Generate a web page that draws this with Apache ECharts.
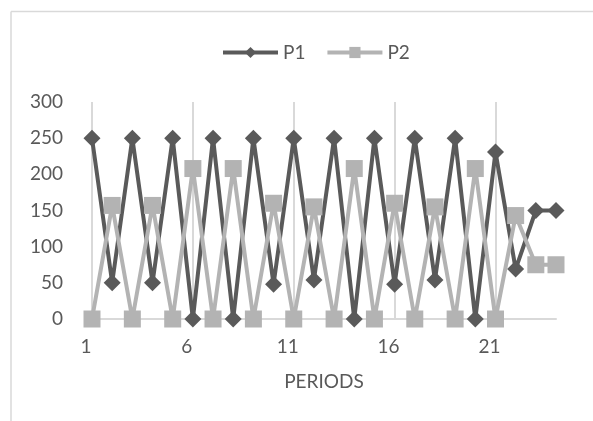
<!DOCTYPE html>
<html>
<head>
<meta charset="utf-8">
<script src="https://cdn.jsdelivr.net/npm/echarts@6/dist/echarts.min.js"></script>
<style>
html,body{margin:0;padding:0;background:#fff;}
#chart{width:593px;height:421px;}
</style>
</head>
<body>
<div id="chart"></div>
<script>
var periods = ['1','2','3','4','5','6','7','8','9','10','11','12','13','14','15','16','17','18','19','20','21','22','23','24'];
var p1 = [250,50,250,50,250,0,250,0,250,48,250,54,250,0,250,48,250,54,250,0,231,69,150,150];
var p2 = [0,157,0,157,0,208,0,208,0,160,0,155,0,208,0,160,0,155,0,208,0,143,75,75];
var yTicks = [0,50,100,150,200,250,300];

var textColor = '#595959';
var fontFam = 'Lato, "Open Sans", sans-serif';
var chart = echarts.init(document.getElementById('chart'));
chart.setOption({
  animation: false,
  backgroundColor: '#ffffff',
  textStyle: {fontFamily: fontFam, color: textColor},
  graphic: [
    {type:'line', shape:{x1:11, y1:11.5, x2:593, y2:11.5}, style:{stroke:'#d9d9d9', lineWidth:1.5}, silent:true},
    {type:'line', shape:{x1:11, y1:11.5, x2:11, y2:421}, style:{stroke:'#d9d9d9', lineWidth:1.5}, silent:true}
  ],
  legend: {
    left: 216, top: 38,
    itemWidth: 55, itemHeight: 14, itemGap: 20,
    lineStyle: {width: 4},
    textStyle: {fontFamily: fontFam, fontSize: 19, color: textColor},
    data: ['P1','P2']
  },
  grid: {left: 92, right: 37, top: 102, bottom: 102, containLabel: false},
  xAxis: {
    type: 'category',
    data: periods,
    boundaryGap: false,
    name: 'PERIODS',
    nameLocation: 'middle',
    nameGap: 53,
    nameTextStyle: {fontFamily: fontFam, fontSize: 19, color: textColor},
    axisLine: {show: true, lineStyle: {color: '#d9d9d9', width: 2}},
    axisTick: {show: false},
    axisLabel: {
      interval: function(i){ return i % 5 === 0; },
      fontFamily: fontFam, fontSize: 19, color: textColor,
      margin: 18, padding: [0, 12, 0, 0]
    },
    splitLine: {
      show: true,
      interval: function(i){ return i % 5 === 0; },
      lineStyle: {color: '#d9d9d9', width: 2}
    }
  },
  yAxis: {
    type: 'value',
    min: 0, max: 300, interval: 50,
    axisLine: {show: false},
    axisTick: {show: false},
    splitLine: {show: false},
    axisLabel: {
      fontFamily: fontFam, fontSize: 19, color: textColor, margin: 29,
      formatter: function(v){ return yTicks.indexOf(v) >= 0 ? String(v) : ''; }
    }
  },
  series: [
    {
      name: 'P1', type: 'line', data: p1,
      symbol: 'diamond', symbolSize: 17, showAllSymbol: true,
      lineStyle: {color: '#5a5a5a', width: 4},
      itemStyle: {color: '#5a5a5a'}
    },
    {
      name: 'P2', type: 'line', data: p2,
      symbol: 'rect', symbolSize: 17, showAllSymbol: true,
      lineStyle: {color: '#b3b3b3', width: 4},
      itemStyle: {color: '#b3b3b3'}
    }
  ]
});
</script>
</body>
</html>
